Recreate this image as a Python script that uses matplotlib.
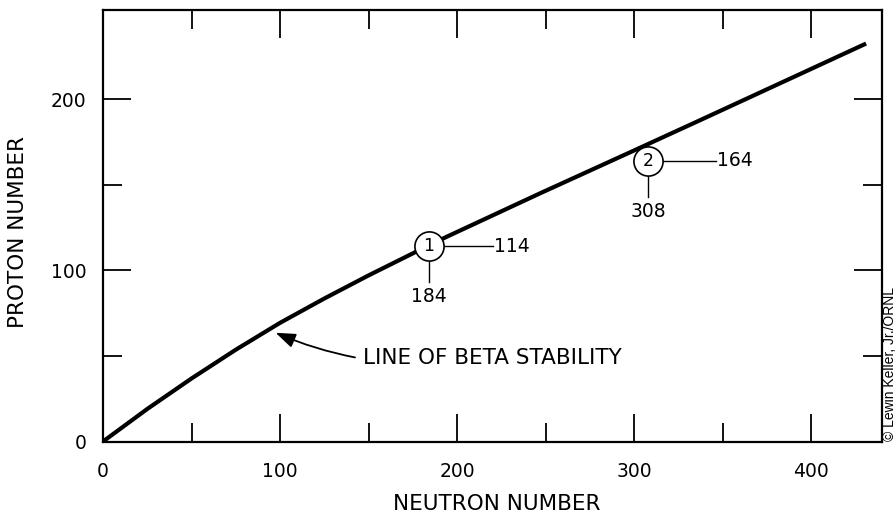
import matplotlib
matplotlib.use("Agg")
import matplotlib.pyplot as plt
from matplotlib.ticker import FixedLocator

plt.rcParams['font.family'] = ['DejaVu Sans']

# Line of beta stability: neutron number vs proton number
neutron = [0, 25, 50, 75, 100, 125, 150, 184, 194, 247, 299, 338, 431]
proton = [0, 19, 36.8, 53.6, 69.3, 83.5, 97, 114.5, 119.5, 145, 169.5, 188, 232.4]

# Marked points (circled)
mark_ids = ["1", "2"]
mark_n = [184, 308]
mark_z = [114, 164]

x_ticks = [0, 100, 200, 300, 400]
x_minor = [50, 150, 250, 350]
y_ticks = [0, 100, 200]
y_minor = [50, 150]

W, H = 896, 516
fig = plt.figure(figsize=(W / 100, H / 100), dpi=100)
left, right, bottom, top = 103, 882, 441.5, 10
ax = fig.add_axes([left / W, 1 - bottom / H, (right - left) / W, (bottom - top) / H])
ax.set_xlim(0, 440)
ax.set_ylim(0, 252)

ax.plot(neutron, proton, color='black', lw=3.0, solid_capstyle='butt',
        solid_joinstyle='round', zorder=3)

# circles and leaders
hlen = [36, 38]
vdrop = [21, 21]
for lab, n, z, hl, vd in zip(mark_ids, mark_n, mark_z, hlen, vdrop):
    ax.plot([n, n + hl], [z, z], color='black', lw=1.0, zorder=2)
    ax.plot([n, n], [z, z - vd], color='black', lw=1.0, zorder=2)
    ax.plot([n], [z], marker='o', ms=21, mfc='white', mec='black', mew=1.2, zorder=5)
    ax.text(n, z, lab, ha='center', va='center', fontsize=12.5, zorder=6)
    ax.text(n + hl + 1, z, str(z), ha='left', va='center', fontsize=13.5)
    ax.text(n, z - vd - 3, str(n), ha='center', va='top', fontsize=13.5)

ax.annotate("LINE OF BETA STABILITY", xy=(97.5, 63.5), xytext=(147, 48.8),
            ha='left', va='center', fontsize=15.5,
            arrowprops=dict(arrowstyle='-|>,head_length=0.6,head_width=0.22',
                            connectionstyle='arc3,rad=-0.15', color='black',
                            lw=1.3, shrinkA=4, shrinkB=0, mutation_scale=20))

ax.set_xticks(x_ticks)
ax.set_yticks(y_ticks)
ax.xaxis.set_minor_locator(FixedLocator(x_minor))
ax.yaxis.set_minor_locator(FixedLocator(y_minor))
ax.set_xticklabels([str(v) for v in x_ticks])
ax.set_yticklabels([str(v) for v in y_ticks])
ax.tick_params(which='both', direction='in', top=True, right=True, width=1.3, color='black')
ax.tick_params(which='major', length=20)
ax.tick_params(which='minor', length=13.5)
ax.tick_params(axis='x', which='major', pad=15, labelsize=13.5)
ax.tick_params(axis='y', which='major', pad=12, labelsize=13.5)
for s in ax.spines.values():
    s.set_linewidth(1.6)

ax.set_xlabel("NEUTRON NUMBER", fontsize=15.5)
ax.xaxis.set_label_coords(0.506, -0.145)
ax.xaxis.label.set_va('center')
ax.set_ylabel("PROTON NUMBER", fontsize=15.5)
ax.yaxis.set_label_coords(-0.1085, 0.4855)
ax.yaxis.label.set_va('center')

fig.text(890 / W, 1 - 441 / H, "\u00a9 Lewin Keller, Jr./ORNL", rotation=90,
         ha='center', va='bottom', fontsize=10, family=['Liberation Sans', 'DejaVu Sans'])

fig.savefig("out.png", dpi=100)
